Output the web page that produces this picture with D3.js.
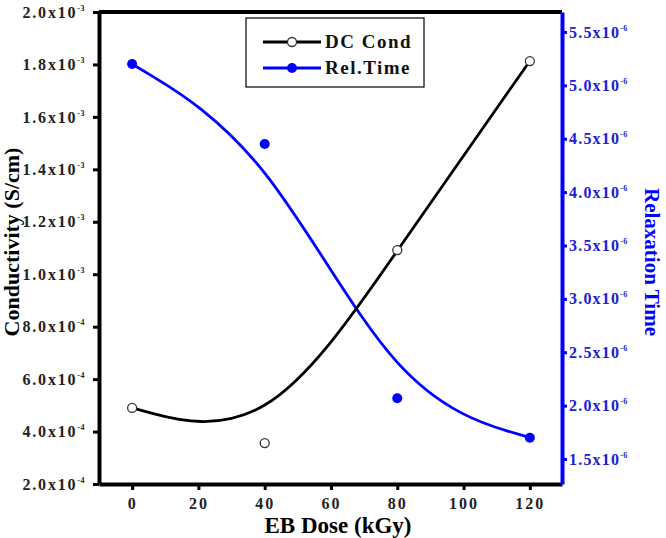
<!DOCTYPE html>
<html>
<head>
<meta charset="utf-8">
<script src="https://cdn.jsdelivr.net/npm/d3@7"></script>
<style>
body { margin: 0; background: #fff; }
text { font-family: "Liberation Serif", "Times New Roman", serif; font-weight: bold; }
</style>
</head>
<body>
<script>
// data
var dose = [0, 40, 80, 120]
var dcCond = [4.90e-4, 3.56e-4, 1.092e-3, 1.813e-3]
var relTime = [5.20e-6, 4.45e-6, 2.07e-6, 1.70e-6]

var doseTicks = [0, 20, 40, 60, 80, 100, 120]
var condTicks = [2e-4, 4e-4, 6e-4, 8e-4, 1e-3, 1.2e-3, 1.4e-3, 1.6e-3, 1.8e-3, 2e-3]
var relTicks = [1.5e-6, 2e-6, 2.5e-6, 3e-6, 3.5e-6, 4e-6, 4.5e-6, 5e-6, 5.5e-6]

var width = 666, height = 538
var plot = {left: 99, right: 562, top: 12, bottom: 484}

var x = d3.scaleLinear().domain([-10, 129.7]).range([plot.left, plot.right])
var yL = d3.scaleLinear().domain([2e-4, 2e-3]).range([plot.bottom, plot.top])
var yR = d3.scaleLinear().domain([1.266e-6, 5.687e-6]).range([plot.bottom, plot.top])

var svg = d3.select("body").append("svg")
	.attr("width", width)
	.attr("height", height)

// mantissa x10 with a raised exponent
function sciLabel(sel) {
	sel.each(function(v) {
		var e = Math.floor(Math.log10(v) + 1e-9)
		var m = v / Math.pow(10, e)
		var t = d3.select(this).text(null)
		t.append("tspan").text(m.toFixed(1) + "x10")
		t.append("tspan").attr("dy", -7).attr("font-size", 8).attr("letter-spacing", 0.5).text("-" + (-e))
	})
}

// top frame line
svg.append("line")
	.attr("x1", plot.left).attr("x2", plot.right)
	.attr("y1", plot.top).attr("y2", plot.top)
	.attr("stroke", "#000").attr("stroke-width", 4)

// bottom axis
var gx = svg.append("g")
	.attr("transform", "translate(0," + plot.bottom + ")")
	.call(d3.axisBottom(x).tickValues(doseTicks).tickSize(6).tickSizeOuter(0).tickPadding(8))
gx.select(".domain").attr("stroke-width", 4)
gx.selectAll(".tick line").attr("stroke-width", 3)
gx.selectAll(".tick text").attr("font-size", 16).attr("letter-spacing", 2).attr("fill", "#222")

// left axis
var gy = svg.append("g")
	.attr("transform", "translate(" + plot.left + ",0)")
	.call(d3.axisLeft(yL).tickValues(condTicks).tickSize(6).tickSizeOuter(0).tickPadding(8))
gy.select(".domain").attr("stroke-width", 4)
gy.selectAll(".tick line").attr("stroke-width", 3)
gy.selectAll(".tick text").attr("font-size", 16).attr("letter-spacing", 1.8).attr("fill", "#222").call(sciLabel)

// right axis
var gr = svg.append("g")
	.attr("transform", "translate(" + plot.right + ",0)")
	.call(d3.axisRight(yR).tickValues(relTicks).tickSize(5).tickSizeOuter(0).tickPadding(2))
gr.select(".domain").attr("stroke", "#0000ff").attr("stroke-width", 4)
gr.selectAll(".tick line").attr("stroke", "#0000ff").attr("stroke-width", 3)
gr.selectAll(".tick text").attr("font-size", 16).attr("letter-spacing", 1.2).attr("fill", "#2020d0").call(sciLabel)

// axis titles
svg.append("text")
	.attr("x", 338).attr("y", 533)
	.attr("text-anchor", "middle").attr("font-size", 23)
	.text("EB Dose (kGy)")

svg.append("text")
	.attr("transform", "translate(19,242) rotate(-90)")
	.attr("text-anchor", "middle").attr("font-size", 22)
	.text("Conductivity (S/cm)")

svg.append("text")
	.attr("transform", "translate(645,262) rotate(90)")
	.attr("text-anchor", "middle").attr("font-size", 21).attr("fill", "#0000ff")
	.text("Relaxation Time")

// curves
var condLine = d3.line()
	.x((d, i) => x(dose[i]))
	.y(d => yL(d))
	.curve(d3.curveBasis)
var relLine = d3.line()
	.x((d, i) => x(dose[i]))
	.y(d => yR(d))
	.curve(d3.curveBasis)

svg.append("path")
	.attr("d", relLine(relTime))
	.attr("fill", "none").attr("stroke", "#0000ff").attr("stroke-width", 2.8)
svg.append("path")
	.attr("d", condLine(dcCond))
	.attr("fill", "none").attr("stroke", "#000").attr("stroke-width", 2.8)

svg.append("g").selectAll("circle")
	.data(relTime)
	.join("circle")
	.attr("cx", (d, i) => x(dose[i]))
	.attr("cy", d => yR(d))
	.attr("r", 5)
	.attr("fill", "#0000ff")

svg.append("g").selectAll("circle")
	.data(dcCond)
	.join("circle")
	.attr("cx", (d, i) => x(dose[i]))
	.attr("cy", d => yL(d))
	.attr("r", 4.5)
	.attr("fill", "#fff")
	.attr("stroke", "#333")
	.attr("stroke-width", 1.3)

// legend
var legend = svg.append("g")
legend.append("rect")
	.attr("x", 246).attr("y", 18).attr("width", 178).attr("height", 69)
	.attr("fill", "#fff").attr("stroke", "#000").attr("stroke-width", 1.2)

var legendItems = [
	{label: "DC Cond", color: "#000", open: true},
	{label: "Rel.Time", color: "#0000ff", open: false}
]
legendItems.forEach(function(d, i) {
	var cy = 42 + i * 26
	legend.append("line")
		.attr("x1", 263).attr("x2", 321).attr("y1", cy).attr("y2", cy)
		.attr("stroke", d.color).attr("stroke-width", 3)
	legend.append("circle")
		.attr("cx", 292).attr("cy", cy).attr("r", d.open ? 4.5 : 5)
		.attr("fill", d.open ? "#fff" : d.color)
		.attr("stroke", d.open ? "#333" : "none").attr("stroke-width", 1.3)
	legend.append("text")
		.attr("x", 325).attr("y", cy + 6)
		.attr("font-size", 19).attr("letter-spacing", 1.5).attr("fill", "#111")
		.text(d.label)
})
</script>
</body>
</html>
